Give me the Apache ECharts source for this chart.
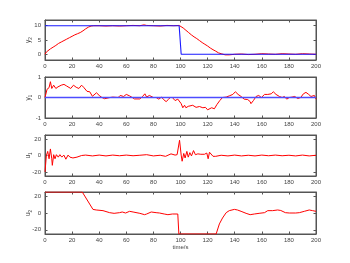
<!DOCTYPE html>
<html><head><meta charset="utf-8">
<script src="https://cdn.jsdelivr.net/npm/echarts@6/dist/echarts.min.js"></script>
<style>html,body{margin:0;padding:0;background:#fff}#c{width:350px;height:263px}</style>
</head><body><div id="c"></div>
<script>
// ---- data ----
var xTicks = [0,20,40,60,80,100,120,140,160,180,200];

var y2RefT = [0, 99, 100.5, 200];
var y2RefV = [10, 10, 0, 0];
var y2T = [0,1,2,4,6,8,10,12,14,16,18,20,22,24,26,28,30,32,34,36,40,45,50,55,60,65,70,73,75,80,85,90,95,99,100,102,104,106,108,110,112,114,116,118,120,122,124,126,128,130,133,136,140,145,150,155,160,165,170,175,180,185,190,195,200];
var y2V = [0,0.8,1.3,1.9,2.5,3.1,3.8,4.3,4.8,5.3,5.8,6.3,6.8,7.2,7.6,8.2,8.9,9.5,9.9,10.0,10.0,9.9,10.0,9.9,10.0,10.1,10.0,10.3,10.1,10.0,9.9,10.1,10.0,10.1,10.0,9.2,8.4,7.6,6.8,6.1,5.5,4.8,4.1,3.5,2.9,2.2,1.6,1.1,0.5,0.2,-0.2,-0.2,0.0,0.1,-0.1,0.0,0.2,0.1,0.0,0.2,0.1,0.0,0.2,0.1,0.0];

var y1RefT = [0, 200];
var y1RefV = [0, 0];
var y1T = [0,1.5,3,4,5,6.4,8,9.6,12,14,16,17,19,21,23,25,27,28.5,31,33,35,38,40,42,44,45,48,50,51,54,55.5,58,60,62.4,64.4,66,70,72,73.7,75,77,80,82,84,86,87.5,89.4,91,92.4,94,96,98,99.3,100.5,101.7,103,104,105.7,107,109,111.5,114,116.5,118.4,120,121.4,123,125,126.8,129,131,133.7,136,138.6,140.5,142.5,144.7,147,149.6,151.4,152,153.8,155.8,157.7,159.7,162,164.4,167,168.5,170.5,173,175,176.7,178.4,180.3,182.3,184.3,186.5,188.7,190.7,192.6,194.6,196.3,197.5,198.8,200];
var y1V = [0,0.4,0.48,0.77,0.44,0.6,0.44,0.52,0.6,0.64,0.56,0.6,0.44,0.6,0.5,0.44,0.6,0.5,0.3,0.28,0.06,0.23,0.1,0,-0.06,0,0,0.02,-0.07,0,0.1,0.05,0.15,0.08,0,-0.07,-0.07,0.05,0.18,0.02,0.1,0,0,-0.08,0.02,-0.1,-0.2,-0.1,0,0,-0.15,-0.08,-0.15,-0.3,-0.5,-0.38,-0.5,-0.43,-0.5,-0.38,-0.48,-0.44,-0.5,-0.48,-0.6,-0.67,-0.5,-0.55,-0.35,-0.15,0,0.02,0.08,0.15,0.28,0.15,0.05,-0.08,-0.1,-0.2,-0.3,-0.15,0.05,0.1,0,0.15,0.15,0.18,0.28,0.15,0.05,0,0.05,-0.08,0,0.02,0.05,-0.05,0,0.18,0.25,0.15,0.05,0,0.1,-0.08];

var u1T = [0,1,2,3,4,5,5.4,6.4,7.4,8.4,9.8,11,12.4,13.9,15.4,17,18.4,20.6,23.6,27,30,35,40,45,50,55,60,65,70,75,80,85,89,93,96,97.5,99.3,100.5,101.2,102.4,103.4,104.7,105.7,106.9,108.1,109.6,111,112.8,115,117.7,119.4,120.4,121.4,122.8,124,126,130,135,140,145,150,155,160,165,170,175,180,185,190,195,200];
var u1V = [-20,0,5,-4,8,-4,-12,1,-4,1,-2,1,-2,0.5,-4.5,0.5,-2,-3,-2,0,0.5,-0.5,0.5,-0.5,0.5,-0.3,0.5,-0.3,0.3,1,-0.5,0.3,-1,2,0.5,1,18.6,0.5,-7,2.5,-3,5,-2,3.5,-0.5,6,1,2,1.5,1.5,3,-4,4,3,-1,-1,0.3,-0.5,0.5,-0.5,0.3,-0.5,0.5,-0.3,0.5,-0.3,0.3,-0.5,0.5,-0.5,0.3];

var u2T = [0,27.5,35.4,37.8,42.8,47.7,51,55,57,59.5,62.4,65,70,73.5,75,78.4,82,84.5,88,90.7,94,98,98.8,126.3,128.7,131,133.7,136,139.8,142,144.7,148.4,151.4,154.5,158,162,164.4,168,171.7,174,177.4,180.3,185,187.7,189,191.4,195,197.5,200];
var u2V = [25,25,4.3,3.6,2.8,0.4,-0.4,0.4,1.2,0,2,1.2,-0.4,-2,-1.2,1.2,0.4,0,-1.2,-2,-1.2,-1.2,-25,-25,-13,-6,0.4,2.8,4.3,3.6,2,-0.4,-2,-1.2,-0.4,0.4,2.8,2.8,3.6,3,0.4,0,0,0.4,-0.4,2,3.6,2.8,2];

var yRanges = [[-2,12],[-1,1],[-25,25],[-25,25]];
var yTickVals = [[0,5,10],[-1,0,1],[-20,0,20],[-20,0,20]];
var yNames = [['y','2'],['y','1'],['u','1'],['u','2']];

// ---- chart ----
function zip(t, v){ return t.map(function(x,i){ return [x, v[i]]; }); }
var FONT = 'Liberation Sans, Arial, Helvetica, sans-serif';
var AX = '#555';
var TXT = '#444';
var gridsPos = [[20,40],[77,41],[135,41],[192,42]];

var grids = [], xAxes = [], yAxes = [], series = [];
gridsPos.forEach(function(g, i){
  grids.push({left:45, right:34, top:g[0], height:g[1], show:true, borderColor:AX, borderWidth:1, backgroundColor:'#fff'});
  var xa = {type:'value', gridIndex:i, min:0, max:200, interval:20,
    axisLine:{onZero:false, lineStyle:{color:AX, width:1}},
    axisTick:{inside:true, length:2.5, lineStyle:{color:AX}},
    axisLabel:{fontSize:6, color:TXT, fontFamily:FONT, margin:3},
    splitLine:{show:false}};
  if (i === 3) {
    xa.name = 'time/s'; xa.nameLocation = 'middle'; xa.nameGap = 10; xa.nameMoveOverlap = false;
    xa.nameTextStyle = {fontSize:6, color:TXT, fontFamily:FONT};
  }
  xAxes.push(xa);
  xAxes.push({type:'value', gridIndex:i, position:'top', min:0, max:200, interval:20,
    axisLine:{show:true, onZero:false, lineStyle:{color:AX}}, axisTick:{inside:true, length:2.5, lineStyle:{color:AX}},
    axisLabel:{show:false}, splitLine:{show:false}});
  var r = yRanges[i];
  yAxes.push({type:'value', gridIndex:i, min:r[0], max:r[1],
    name:'{a|'+yNames[i][0]+'}{b|'+yNames[i][1]+'}', nameLocation:'middle', nameGap:12, nameRotate:90, nameMoveOverlap:false,
    nameTextStyle:{color:TXT, fontFamily:FONT, rich:{a:{fontSize:6.5, color:TXT, fontFamily:FONT}, b:{fontSize:4.5, color:TXT, fontFamily:FONT, padding:[4,0,0,0]}}},
    axisLine:{show:true, onZero:false, lineStyle:{color:AX}},
    axisTick:{inside:true, length:2.5, lineStyle:{color:AX}, customValues:yTickVals[i]},
    axisLabel:{fontSize:6, color:TXT, fontFamily:FONT, margin:4, customValues:yTickVals[i]},
    splitLine:{show:false}});
  yAxes.push({type:'value', gridIndex:i, position:'right', min:r[0], max:r[1],
    axisLine:{show:true, onZero:false, lineStyle:{color:AX}},
    axisTick:{inside:true, length:2.5, lineStyle:{color:AX}, customValues:yTickVals[i]},
    axisLabel:{show:false}, splitLine:{show:false}});
});

function line(i, t, v, color, w){
  return {type:'line', xAxisIndex:2*i, yAxisIndex:2*i, data:zip(t,v), showSymbol:false, symbol:'none',
    lineStyle:{color:color, width:w || 1}, itemStyle:{color:color}, animation:false, silent:true};
}
series.push(line(0, y2T, y2V, '#ff0000'));
series.push(line(0, y2RefT, y2RefV, '#1a1aff', 1.1));
series.push(line(1, y1T, y1V, '#ff0000'));
series.push(line(1, y1RefT, y1RefV, '#4d4dff', 1.3));
series.push(line(2, u1T, u1V, '#ff0000'));
series.push(line(3, u2T, u2V, '#ff0000'));

var chart = echarts.init(document.getElementById('c'), null, {renderer:'canvas'});
chart.setOption({animation:false, backgroundColor:'#fff', grid:grids, xAxis:xAxes, yAxis:yAxes, series:series});
</script></body></html>
